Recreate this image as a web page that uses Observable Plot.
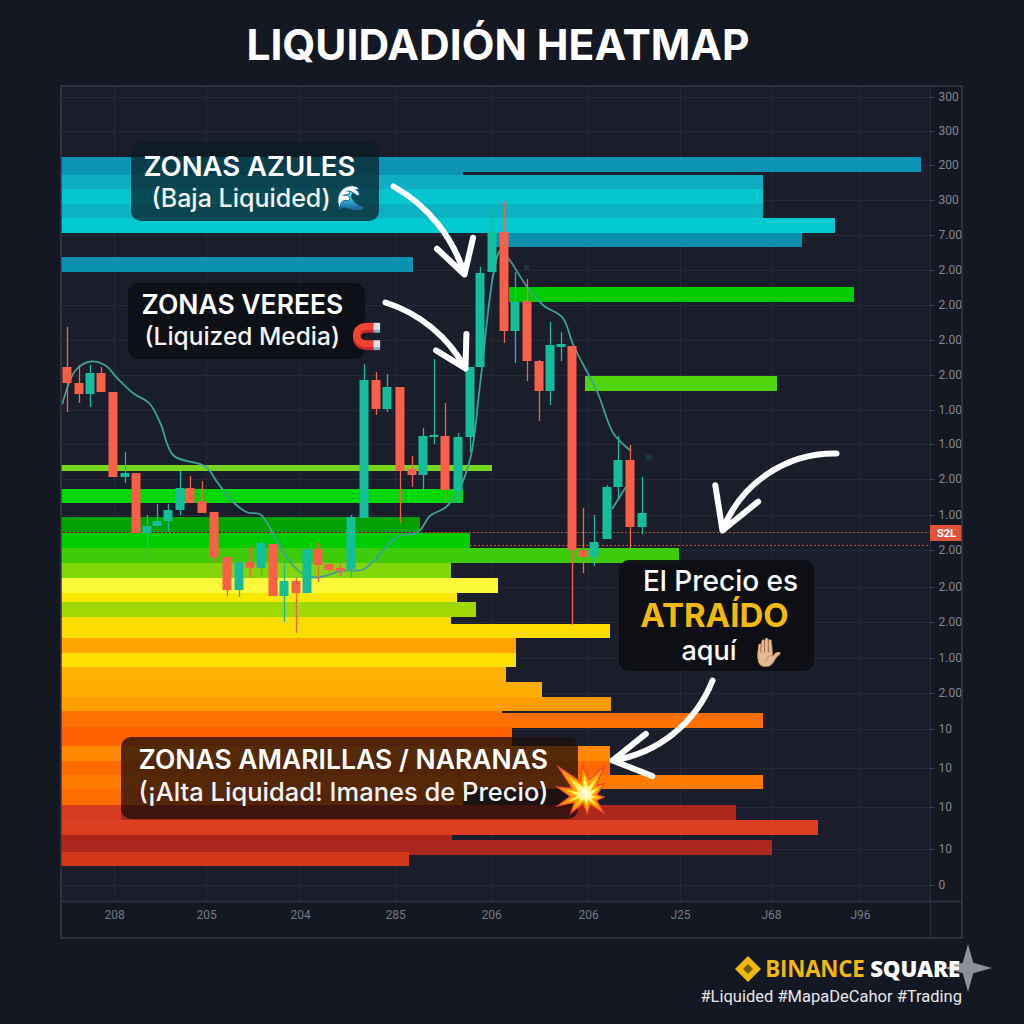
<!DOCTYPE html>
<html><head><meta charset="utf-8">
<script src="https://cdn.jsdelivr.net/npm/d3@7"></script>
<script src="https://cdn.jsdelivr.net/npm/@observablehq/plot@0.6"></script>
<style>
html,body{margin:0;padding:0;background:#141823;width:1024px;height:1024px;overflow:hidden}
#title{height:86px;padding-right:28px;text-align:center;color:#fff;font:700 42.5px/90px Inter,"Liberation Sans",sans-serif;}
#chart svg{display:block}
#foot{position:relative;height:86px;font-family:Roboto,sans-serif}
#brand{position:absolute;right:64px;top:18px;font:700 22.3px/26px "Open Sans",Roboto,sans-serif;color:#f0b90b;white-space:nowrap;letter-spacing:-.2px}
#brand b{color:#fff}
#tags{position:absolute;right:62px;top:49px;font:400 16.5px/20px Roboto,sans-serif;color:#e6e8ec;white-space:nowrap}
#logo{position:absolute;left:735px;top:18px;width:26px;height:26px;background:#f0b90b;clip-path:polygon(50% 0,100% 50%,50% 100%,0 50%)}
#logo i{position:absolute;left:8px;top:8px;width:10px;height:10px;background:#7a5c08;clip-path:polygon(50% 0,100% 50%,50% 100%,0 50%)}
#star{position:absolute;left:944px;top:6px;width:48px;height:48px;background:#8d9096;clip-path:polygon(50% 0,61% 39%,100% 50%,61% 61%,50% 100%,39% 61%,0 50%,39% 39%)}
</style></head><body>
<div id="title">LIQUIDADIÓN HEATMAP</div>
<div id="chart"></div>
<div id="foot"><div id="logo"><i></i></div><div id="star"></div><div id="brand">BINANCE <b>SQUARE</b></div><div id="tags">#Liquided #MapaDeCahor #Trading</div></div>
<script>
// Position along the time axis and price level (axis labels are illegible)
const candleTime = [6,18,29,40,52,64,75,86,96,107,119,129,141,153,166,178,189,200,212,223,235,246,257,268,279,290,303,315,326,339,351,362,373,384,397,409,419,431,443,454,466,478,489,500,511,522,533,546,557,569,581];
const candleOpen = [518,502,491,512,493,408,412,352,359,364,375,397,384,373,328,295,323,317,341,289,304,292,336,321,317,316,367,505,476,498,416,410,448,449,394,448,518,613,653,554,584,524,494,538,539,335,328,346,398,425,358];
const candleClose = [502,491,512,493,408,412,352,359,364,375,397,382,372,328,295,323,317,342,289,304,292,336,320,315,314,368,505,476,498,414,410,449,450,395,448,518,612,653,554,583,524,494,540,541,335,328,343,398,425,358,372];
const candleHigh = [558,520,520,518,493,433,412,370,381,381,414,409,404,373,328,330,338,346,341,322,308,336,342,321,322,370,521,513,511,498,429,457,526,482,452,518,618,673,683,613,606,525,563,553,539,377,370,400,449,440,408];
const candleLow = [473,482,478,493,408,402,352,328,359,353,370,382,372,323,289,288,308,310,289,263,252,292,303,310,309,307,367,470,473,362,398,388,441,382,382,433,518,613,542,522,504,464,480,524,260,312,319,346,385,337,351];

// Moving-average line, two stretches
const emaTime = [1,14,29,44,56,72,88,99,112,144,156,172,186,199,216,229,242,256,282,302,319,336,356,369,384,397,409,419,432,439,447,466,482,501,512,536,552,569];
const emaPrice = [482,515,524,520,507,492,482,462,430,419,403,383,373,371,343,323,311,308,315,316,332,349,353,370,378,395,428,505,612,635,627,598,580,568,540,493,452,435];
const ema2Time = [551,564];
const ema2Price = [377,398];

// Liquidity zones: start, end, upper price, lower price, colour
const zoneStart = [0,0,0,0,0,0,429,0,448,524,0,0,0,0,0,0,0,0,0,0,0,0,0,0,0,0,0,0,0,0,0,0,0,0,0,0,0,0,0];
const zoneEnd = [860,402,702,702,702,774,741,352,793,716,431,402,359,409,618,390,437,396,415,390,549,455,455,445,481,550,441,702,451,549,549,702,402,675,60,757,391,711,348];
const zoneTop = [728,713,710,696,681,667,652,628,598,509,420,396,368,352,337,322,307,292,283,268,261,247,232,218,203,188,174,172,158,139,124,110,96,80,80,65,50,45,33];
const zoneBottom = [713,710,696,681,667,652,638,613,583,494,414,382,353,337,322,307,292,283,268,261,247,232,218,203,188,174,172,157,139,124,110,96,80,65,65,50,45,30,19];
const zoneColor = ["#0a93b4","#0a93b4","#10aec4","#05c5cf","#0bb2c2","#03c9d0","#0890ae","#0a92b0","#00cc00","#4ed60a","#76d61c","#00d800","#04a004","#00cc00","#3fcc08","#82d60a","#fbf739","#f8e800","#a0d806","#fadd00","#fbdd00","#ffa500","#fde000","#ffb000","#ffae00","#ff9c00","#ff7800","#ff7000","#ff6200","#ff8800","#ff6a00","#ff7b00","#ff6f00","#ad281c","#d63c22","#dc3e22","#a82518","#ac281e","#d43818"];

const priceTicks = [788,754,720,685,650,615,580,545,510,475,441,406,370,335,298,263,227,192,156,117,78,36,0];
const priceLabels = ["300","300","200","300","7.00","2.00","2.00","2.00","2.00","1.00","1.00","2.00","1.00","2.00","2.00","2.00","1.00","2.00","10","10","10","10","0"];
const timeTicks = [53,145,239,334,430,527,619,710,799];
const timeLabels = ["208","205","204","285","206","206","J25","J68","J96"];

const zones = zoneEnd.map((e,i)=>({x1:zoneStart[i],x2:e,y1:zoneTop[i],y2:zoneBottom[i],c:zoneColor[i]}));
const candles = candleTime.map((t,i)=>({t,o:candleOpen[i],c:candleClose[i],h:candleHigh[i],l:candleLow[i]}));
const up = candles.filter(d=>d.c>=d.o), down = candles.filter(d=>d.c<d.o);
const teal="#14bd9c", red="#fb5f4a", gridC="#262a38";
const font='Inter,"Liberation Sans",sans-serif';

function candleMarks(data,color){return [
  Plot.ruleX(data,{x:"t",y1:"l",y2:"h",stroke:color,strokeWidth:1.3}),
  Plot.rectY(data,{x1:d=>d.t-4.5,x2:d=>d.t+4.5,y1:"o",y2:"c",fill:color})
];}
const arrowOpts = {x1:d=>d[0],y1:d=>d[1],x2:d=>d[2],y2:d=>d[3],stroke:"#fff",strokeWidth:6,headLength:14,strokeLinecap:"round",strokeLinejoin:"round"};

const plot = Plot.plot({
  width:1024,height:852,marginLeft:61,marginRight:62,marginTop:0,marginBottom:0,
  style:{background:"transparent",overflow:"visible"},
  x:{domain:[0,901],axis:null},
  y:{domain:[-53,799],axis:null},
  marks:[
    Plot.rect([{}],{x1:0,x2:869,y1:-16,y2:799,fill:"#1a1d2a"}),
    Plot.ruleY(priceTicks,{x1:0,x2:869,stroke:gridC,strokeWidth:1}),
    Plot.ruleX(timeTicks,{y1:-16,y2:799,stroke:gridC,strokeWidth:1}),
    Plot.ruleX([869],{y1:-53,y2:799,stroke:"#2c303e"}),
    Plot.ruleY([-16],{x1:0,x2:901,stroke:"#2c303e",strokeWidth:2}),
    Plot.ruleY(priceTicks,{x1:869,x2:874,stroke:"#3a3e4c"}),
    Plot.text(priceLabels,{x:()=>877,y:(d,i)=>priceTicks[i],text:d=>d,textAnchor:"start",fill:"#83878f",fontSize:12,fontFamily:"Roboto,sans-serif"}),
    Plot.text(timeLabels,{x:(d,i)=>timeTicks[i],y:()=>-30,text:d=>d,fill:"#767a83",fontSize:12,fontFamily:"Roboto,sans-serif"}),
    Plot.rect(zones,{x1:"x1",x2:"x2",y1:"y1",y2:"y2",fill:"c"}),
    Plot.ruleY([353],{x1:0,x2:869,stroke:"#c0503a",strokeDasharray:"2,2",strokeWidth:1}),
    Plot.ruleY([340],{x1:409,x2:869,stroke:"#c0503a",strokeDasharray:"2,2",strokeWidth:1}),
    Plot.rect([{}],{x1:869,x2:901,y1:360,y2:344,fill:"#e0553a"}),
    Plot.text(["S2L"],{x:()=>885,y:()=>352,text:d=>d,fill:"#fff",fontSize:11,fontWeight:700,fontFamily:"Roboto,sans-serif"}),
    Plot.dot([[465,618,3.5],[587,428,5.5]],{x:d=>d[0],y:d=>d[1],r:d=>d[2],symbol:"square",fill:"#1f4a52",fillOpacity:.55}),
    Plot.line(emaTime,{x:d=>d,y:(d,i)=>emaPrice[i],stroke:"#3fa09a",strokeWidth:1.8,curve:"catmull-rom"}),
    Plot.line(ema2Time,{x:d=>d,y:(d,i)=>ema2Price[i],stroke:"#3fa09a",strokeWidth:1.8}),
    ...candleMarks(up,teal),
    ...candleMarks(down,red),
    // callouts
    Plot.rect([{}],{x1:70,x2:318,y1:743,y2:664,fill:"#0b1c24",fillOpacity:.72,r:10}),
    Plot.rect([{}],{x1:67,x2:304,y1:602,y2:526,fill:"#0e1016",fillOpacity:.94,r:10}),
    Plot.rect([{}],{x1:558,x2:753,y1:325,y2:214,fill:"#0d0f14",fillOpacity:.95,r:10}),
    Plot.rect([{}],{x1:60,x2:517,y1:148,y2:66,fill:"#1e0f0a",fillOpacity:.76,r:10}),
    Plot.text(["ZONAS AZULES"],{x:()=>82,y:()=>718,text:d=>d,textAnchor:"start",fill:"#fff",fontSize:27.5,fontWeight:600,fontFamily:font}),
    Plot.text(["(Baja Liquided)"],{x:()=>90,y:()=>687,text:d=>d,textAnchor:"start",fill:"#f2f4f5",fontSize:25,fontWeight:500,fontFamily:font}),
    Plot.text(["🌊"],{x:()=>289,y:()=>687,text:d=>d,fontSize:24}),
    Plot.text(["ZONAS VEREES"],{x:()=>80,y:()=>580,text:d=>d,textAnchor:"start",fill:"#fff",fontSize:26.5,fontWeight:600,fontFamily:font}),
    Plot.text(["(Liquized Media)"],{x:()=>83,y:()=>548,text:d=>d,textAnchor:"start",fill:"#f2f4f5",fontSize:24.5,fontWeight:500,fontFamily:font}),
    Plot.text(["🧲"],{x:()=>305,y:()=>549,text:d=>d,fontSize:25}),
    Plot.text(["El Precio es"],{x:()=>659,y:()=>303,text:d=>d,fill:"#fff",fontSize:28,fontWeight:500,fontFamily:font}),
    Plot.text(["ATRAÍDO"],{x:()=>653,y:()=>269,text:d=>d,fill:"#f0b90b",fontSize:33,fontWeight:700,fontFamily:font}),
    Plot.text(["aquí"],{x:()=>620,y:()=>234,text:d=>d,textAnchor:"start",fill:"#fff",fontSize:27,fontWeight:500,fontFamily:font}),
    Plot.text(["✋🏼"],{x:()=>706,y:()=>232,text:d=>d,fontSize:28}),
    Plot.text(["ZONAS AMARILLAS / NARANAS"],{x:()=>77,y:()=>125,text:d=>d,textAnchor:"start",fill:"#fff",fontSize:26.5,fontWeight:600,fontFamily:font}),
    Plot.text(["(¡Alta Liquidad! Imanes de Precio)"],{x:()=>77,y:()=>93,text:d=>d,textAnchor:"start",fill:"#f2f4f5",fontSize:25.5,fontWeight:500,fontFamily:font}),
    Plot.text(["💥"],{x:()=>519,y:()=>95,text:d=>d,fontSize:46}),
    // arrows
    Plot.arrow([[332,699,403,611],[324,583,404,517]],{...arrowOpts,bend:22}),
    Plot.arrow([[775,432,661,355]],{...arrowOpts,bend:-35}),
    Plot.arrow([[651,205,551,125]],{...arrowOpts,bend:30}),
    // outer frame
    Plot.rect([{}],{x1:0,x2:901,y1:-53,y2:799,stroke:"#34384a",strokeWidth:1.5,fill:"none"})
  ]
});
document.getElementById("chart").append(plot);
</script></body></html>
